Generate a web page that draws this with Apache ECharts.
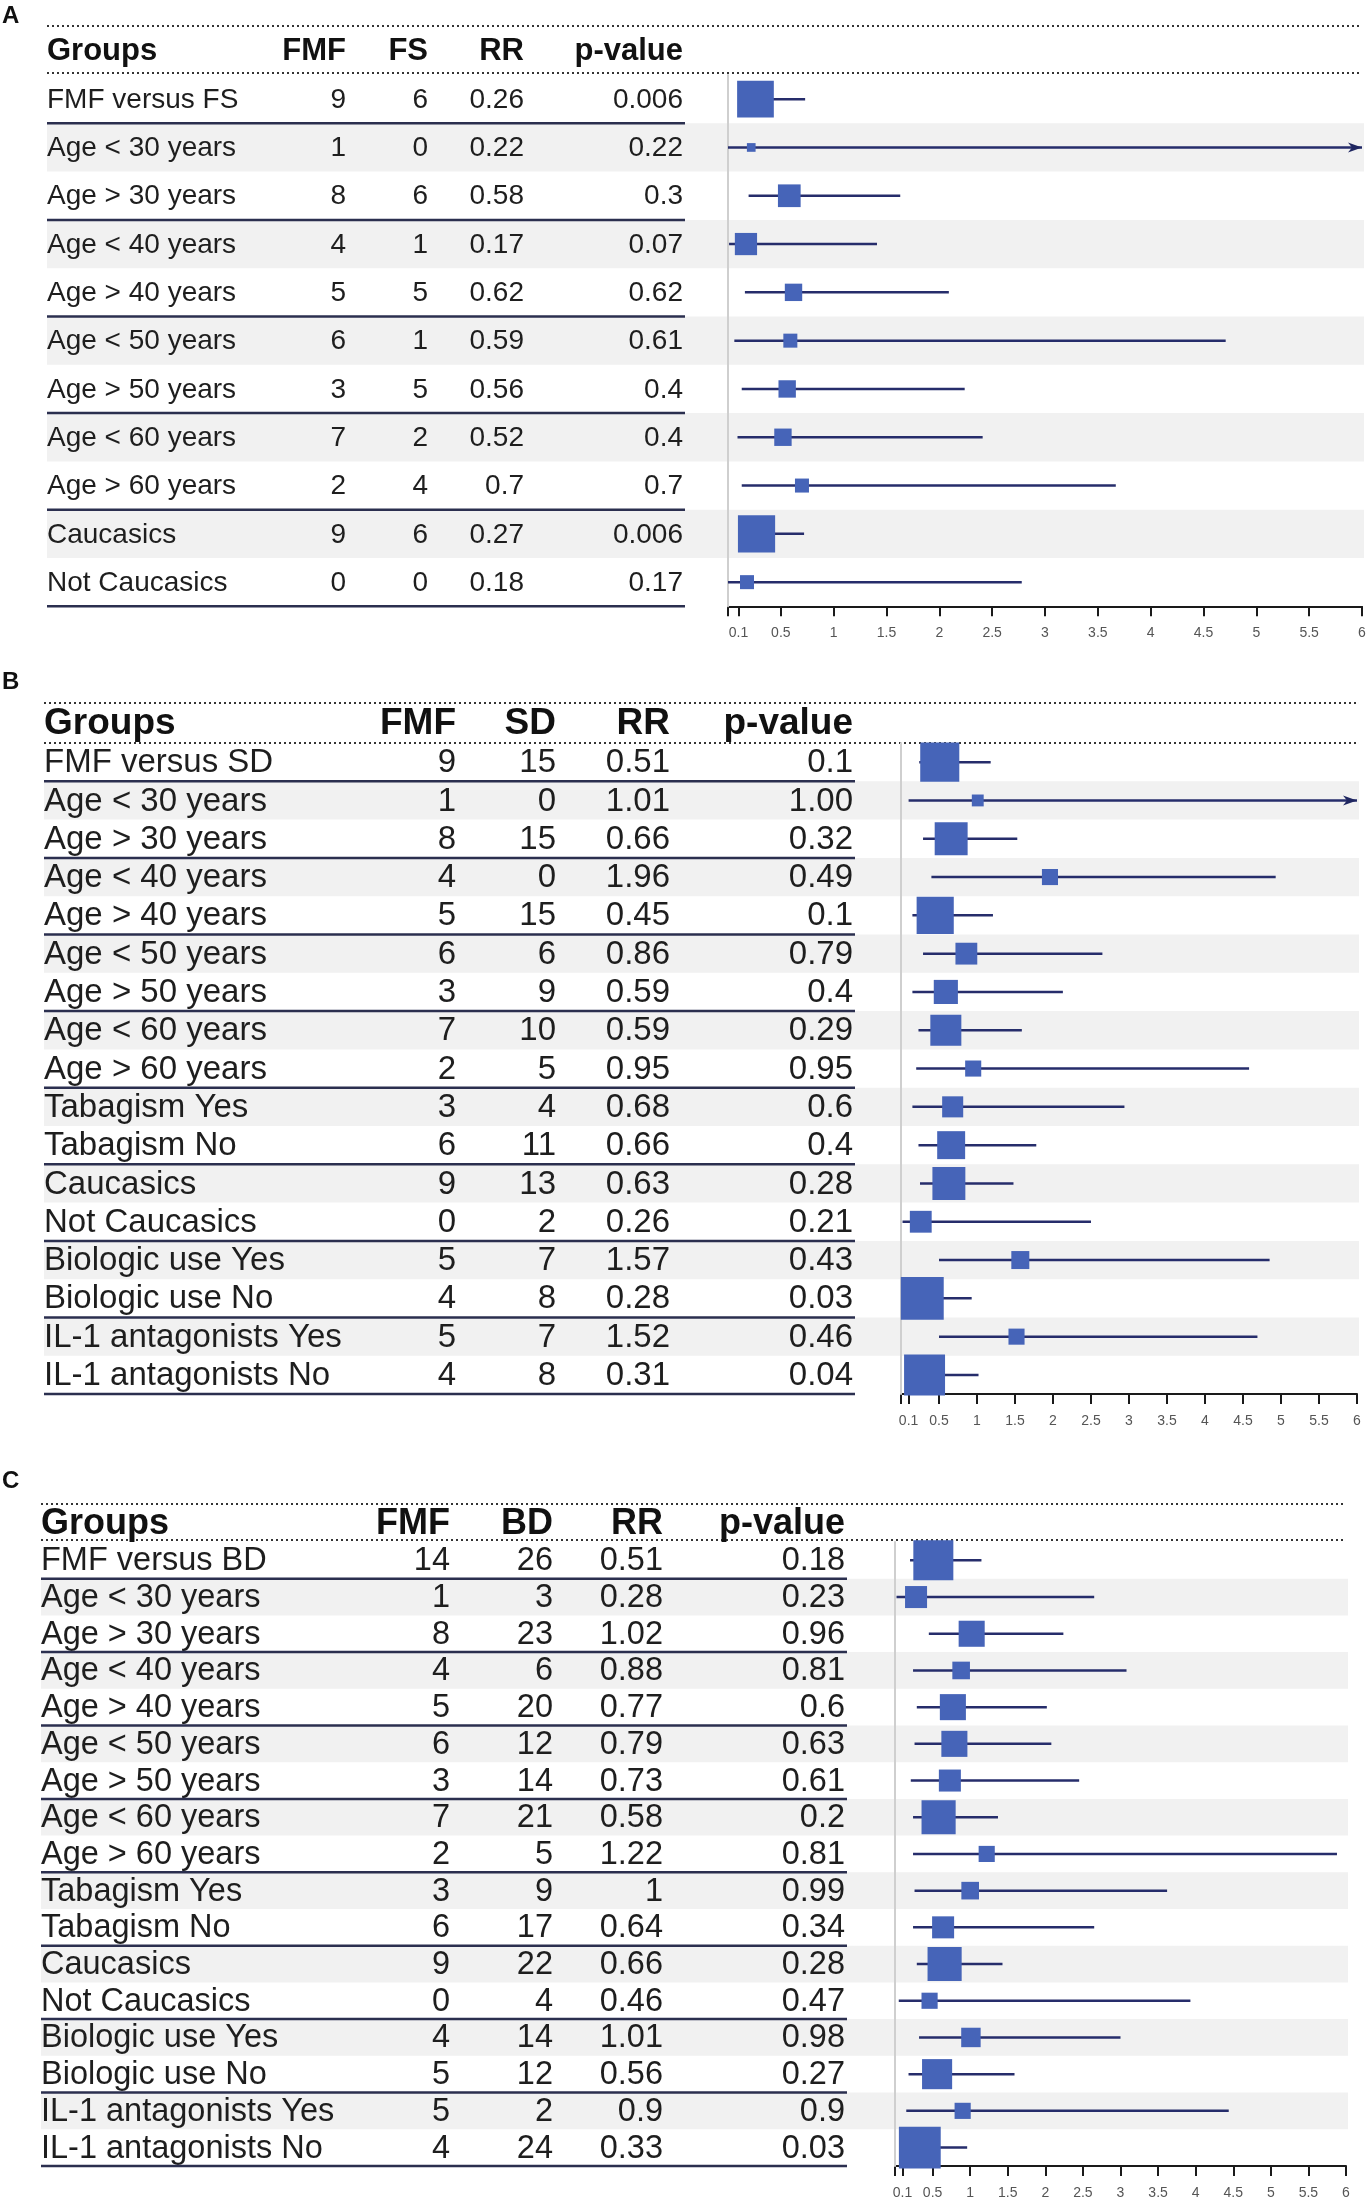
<!DOCTYPE html>
<html>
<head>
<meta charset="utf-8">
<script src="https://cdn.jsdelivr.net/npm/echarts@6/dist/echarts.min.js"></script>
<style>
  html, body { margin: 0; padding: 0; background: #fff; }
  #chart { width: 1371px; height: 2204px; }
</style>
</head>
<body>
<div id="chart"></div>
<script>
// axis ticks (shared by the three plots)
var tickValues = [0, 0.1, 0.5, 1, 1.5, 2, 2.5, 3, 3.5, 4, 4.5, 5, 5.5, 6];
var tickLabels = [0.1, 0.5, 1, 1.5, 2, 2.5, 3, 3.5, 4, 4.5, 5, 5.5, 6];

// panel A: FMF versus FS
var headersA = ['Groups', 'FMF', 'FS', 'RR', 'p-value'];
var groupsA = ['FMF versus FS', 'Age < 30 years', 'Age > 30 years', 'Age < 40 years', 'Age > 40 years',
  'Age < 50 years', 'Age > 50 years', 'Age < 60 years', 'Age > 60 years', 'Caucasics', 'Not Caucasics'];
var fmfA = [9, 1, 8, 4, 5, 6, 3, 7, 2, 9, 0];
var fsA = [6, 0, 6, 1, 5, 1, 5, 2, 4, 6, 0];
var rrA = ['0.26', '0.22', '0.58', '0.17', '0.62', '0.59', '0.56', '0.52', '0.7', '0.27', '0.18'];
var pA = ['0.006', '0.22', '0.3', '0.07', '0.62', '0.61', '0.4', '0.4', '0.7', '0.006', '0.17'];
var lowA = [0.10, 0, 0.195, 0.01, 0.16, 0.06, 0.13, 0.09, 0.13, 0.10, 0];
var highA = [0.73, 7, 1.63, 1.41, 2.09, 4.71, 2.24, 2.41, 3.67, 0.72, 2.78];
var weightA = [0.76, 0.18, 0.47, 0.46, 0.36, 0.29, 0.36, 0.36, 0.29, 0.77, 0.29];

// panel B: FMF versus SD
var headersB = ['Groups', 'FMF', 'SD', 'RR', 'p-value'];
var groupsB = ['FMF versus SD', 'Age < 30 years', 'Age > 30 years', 'Age < 40 years', 'Age > 40 years',
  'Age < 50 years', 'Age > 50 years', 'Age < 60 years', 'Age > 60 years', 'Tabagism Yes', 'Tabagism No',
  'Caucasics', 'Not Caucasics', 'Biologic use Yes', 'Biologic use No', 'IL-1 antagonists Yes', 'IL-1 antagonists No'];
var fmfB = [9, 1, 8, 4, 5, 6, 3, 7, 2, 3, 6, 9, 0, 5, 4, 5, 4];
var sdB = [15, 0, 15, 0, 15, 6, 9, 10, 5, 4, 11, 13, 2, 7, 8, 7, 8];
var rrB = ['0.51', '1.01', '0.66', '1.96', '0.45', '0.86', '0.59', '0.59', '0.95', '0.68', '0.66', '0.63', '0.26', '1.57', '0.28', '1.52', '0.31'];
var pB = ['0.1', '1.00', '0.32', '0.49', '0.1', '0.79', '0.4', '0.29', '0.95', '0.6', '0.4', '0.28', '0.21', '0.43', '0.03', '0.46', '0.04'];
var lowB = [0.24, 0.10, 0.29, 0.40, 0.15, 0.29, 0.15, 0.23, 0.20, 0.15, 0.23, 0.25, 0.02, 0.50, 0.05, 0.50, 0.10];
var highB = [1.18, 7, 1.53, 4.93, 1.21, 2.65, 2.13, 1.59, 4.58, 2.94, 1.78, 1.48, 2.50, 4.85, 0.93, 4.69, 1.02];
var weightB = [1.02, 0.31, 0.86, 0.42, 0.97, 0.57, 0.63, 0.81, 0.42, 0.55, 0.73, 0.86, 0.57, 0.47, 1.12, 0.42, 1.07];

// panel C: FMF versus BD
var headersC = ['Groups', 'FMF', 'BD', 'RR', 'p-value'];
var groupsC = ['FMF versus BD', 'Age < 30 years', 'Age > 30 years', 'Age < 40 years', 'Age > 40 years',
  'Age < 50 years', 'Age > 50 years', 'Age < 60 years', 'Age > 60 years', 'Tabagism Yes', 'Tabagism No',
  'Caucasics', 'Not Caucasics', 'Biologic use Yes', 'Biologic use No', 'IL-1 antagonists Yes', 'IL-1 antagonists No'];
var fmfC = [14, 1, 8, 4, 5, 6, 3, 7, 2, 3, 6, 9, 0, 4, 5, 5, 4];
var bdC = [26, 3, 23, 6, 20, 12, 14, 21, 5, 9, 17, 22, 4, 14, 12, 2, 24];
var rrC = ['0.51', '0.28', '1.02', '0.88', '0.77', '0.79', '0.73', '0.58', '1.22', '1', '0.64', '0.66', '0.46', '1.01', '0.56', '0.9', '0.33'];
var pC = ['0.18', '0.23', '0.96', '0.81', '0.6', '0.63', '0.61', '0.2', '0.81', '0.99', '0.34', '0.28', '0.47', '0.98', '0.27', '0.9', '0.03'];
var lowC = [0.20, 0.02, 0.45, 0.24, 0.29, 0.26, 0.21, 0.24, 0.24, 0.26, 0.24, 0.29, 0.05, 0.32, 0.18, 0.15, 0.10];
var highC = [1.15, 2.65, 2.24, 3.08, 2.02, 2.08, 2.45, 1.37, 5.88, 3.62, 2.65, 1.43, 3.93, 3.0, 1.59, 4.44, 0.96];
var weightC = [1.09, 0.60, 0.71, 0.48, 0.71, 0.71, 0.60, 0.93, 0.44, 0.48, 0.60, 0.93, 0.44, 0.53, 0.82, 0.44, 1.14];

var FONT = '"Liberation Sans", Arial, sans-serif';
var AXIS_MAX = 6;

// page layout of each panel (pixels)
var panels = [
  { letter: 'A', headers: headersA, cols: [groupsA, fmfA, fsA, rrA, pA], low: lowA, high: highA, weight: weightA,
    letterY: 16, dot1: 26, headerY: 51, dot2: 73, top: 75, pitch: 48.3,
    left: 47, colX: [346, 428, 524, 683], lineRight: 685, x0: 728, x6: 1362, rowFont: 28, headFont: 31 },
  { letter: 'B', headers: headersB, cols: [groupsB, fmfB, sdB, rrB, pB], low: lowB, high: highB, weight: weightB,
    letterY: 682, dot1: 703, headerY: 724, dot2: 743, top: 743, pitch: 38.3,
    left: 44, colX: [456, 556, 670, 853], lineRight: 855, x0: 901, x6: 1357, rowFont: 33, headFont: 37 },
  { letter: 'C', headers: headersC, cols: [groupsC, fmfC, bdC, rrC, pC], low: lowC, high: highC, weight: weightC,
    letterY: 1481, dot1: 1504, headerY: 1524, dot2: 1540, top: 1542, pitch: 36.7,
    left: 41, colX: [450, 553, 663, 845], lineRight: 847, x0: 895, x6: 1346, rowFont: 32.5, headFont: 36 }
];

function tableRenderer(p) {
  return function (params, api) {
    var i = params.dataIndex;
    var y = api.coord([0, i])[1];
    var h = api.size([0, 1])[1];
    var kids = [];
    if (i % 2 === 1) {
      kids.push({ type: 'rect', z2: 0, shape: { x: p.left, y: y - h / 2, width: p.x6 + 2 - p.left, height: h },
        style: { fill: '#f1f1f1' } });
    }
    kids.push({ type: 'text', z2: 5, style: { text: String(p.cols[0][i]), x: p.left, y: y + 1,
      align: 'left', verticalAlign: 'middle', fontFamily: FONT, fontSize: p.rowFont, fill: '#1e1e1e' } });
    for (var k = 1; k < 5; k++) {
      kids.push({ type: 'text', z2: 5, style: { text: String(p.cols[k][i]), x: p.colX[k - 1], y: y + 1,
        align: 'right', verticalAlign: 'middle', fontFamily: FONT, fontSize: p.rowFont, fill: '#1e1e1e' } });
    }
    if (i % 2 === 0) {
      kids.push({ type: 'line', z2: 10, shape: { x1: p.left, y1: y + h / 2, x2: p.lineRight, y2: y + h / 2 },
        style: { stroke: '#2b2f4f', lineWidth: 2.5 } });
    }
    return { type: 'group', children: kids };
  };
}

function forestRenderer(params, api) {
  var i = api.value(0), rr = api.value(1), lo = api.value(2), hi = api.value(3), w = api.value(4);
  var h = api.size([0, 1])[1];
  var c = api.coord([rr, i]);
  var a = api.coord([Math.max(lo, 0), i]);
  var b = api.coord([Math.min(hi, AXIS_MAX), i]);
  var s = w * h;
  var kids = [
    { type: 'line', shape: { x1: a[0], y1: c[1], x2: b[0], y2: c[1] }, style: { stroke: '#262d6b', lineWidth: 2.5 } },
    { type: 'rect', shape: { x: c[0] - s / 2, y: c[1] - s / 2, width: s, height: s }, style: { fill: '#4664b8' } }
  ];
  if (hi > AXIS_MAX) {
    kids.push({ type: 'polygon', shape: { points: [[b[0], c[1]], [b[0] - 14, c[1] - 5], [b[0] - 10, c[1]], [b[0] - 14, c[1] + 5]] },
      style: { fill: '#1f2660' } });
  }
  return { type: 'group', children: kids };
}

var grids = [], xAxes = [], yAxes = [], series = [], graphics = [];
panels.forEach(function (p, n) {
  var rows = p.cols[0].length;
  grids.push({ left: p.x0, top: p.top, width: p.x6 - p.x0, height: p.pitch * rows });
  xAxes.push({
    type: 'value', gridIndex: n, min: 0, max: AXIS_MAX,
    axisLine: { show: true, onZero: false, lineStyle: { color: '#1a1a1a', width: 2 } },
    axisTick: { show: true, customValues: tickValues, length: 10, lineStyle: { color: '#1a1a1a', width: 2 } },
    axisLabel: { show: true, customValues: tickLabels, color: '#555', fontSize: 14, margin: 20, fontFamily: FONT },
    splitLine: { show: false }
  });
  yAxes.push({
    type: 'category', gridIndex: n, data: p.cols[0], inverse: true, z: 2,
    axisLine: { show: true, lineStyle: { color: '#cfcfcf', width: 2 } },
    axisTick: { show: false }, axisLabel: { show: false }, splitLine: { show: false }
  });
  series.push({
    type: 'custom', name: 'table ' + p.letter, xAxisIndex: n, yAxisIndex: n, z: 1, silent: true,
    renderItem: tableRenderer(p),
    encode: { x: 0, y: 1 },
    data: p.cols[0].map(function (g, i) { return [0, i]; })
  });
  series.push({
    type: 'custom', name: 'RR ' + p.letter, xAxisIndex: n, yAxisIndex: n, z: 3,
    renderItem: forestRenderer,
    encode: { x: [1, 2, 3], y: 0 },
    data: p.cols[3].map(function (r, i) { return [i, parseFloat(r), p.low[i], p.high[i], p.weight[i]]; })
  });

  graphics.push({ type: 'text', left: 2, top: p.letterY - 12, style: { text: p.letter, fontFamily: FONT, fontWeight: 'bold', fontSize: 24, fill: '#111' } });
  [p.dot1, p.dot2].forEach(function (yy) {
    graphics.push({ type: 'line', shape: { x1: p.left, y1: yy, x2: p.x6, y2: yy },
      style: { stroke: '#333', lineWidth: 2, lineDash: [2, 3] } });
  });
  graphics.push({ type: 'text', x: p.left, y: p.headerY, style: { text: p.headers[0], align: 'left', verticalAlign: 'middle',
    fontFamily: FONT, fontWeight: 'bold', fontSize: p.headFont, fill: '#111' } });
  for (var k = 1; k < 5; k++) {
    graphics.push({ type: 'text', x: p.colX[k - 1], y: p.headerY, style: { text: p.headers[k], align: 'right', verticalAlign: 'middle',
      fontFamily: FONT, fontWeight: 'bold', fontSize: p.headFont, fill: '#111' } });
  }
});

var chart = echarts.init(document.getElementById('chart'));
chart.setOption({
  backgroundColor: '#fff',
  animation: false,
  grid: grids,
  xAxis: xAxes,
  yAxis: yAxes,
  series: series,
  graphic: graphics
});
</script>
</body>
</html>
